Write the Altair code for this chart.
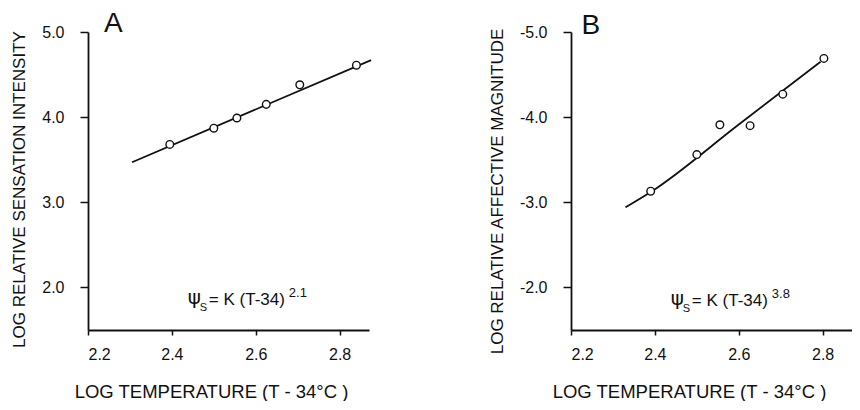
import altair as alt
import pandas as pd

# ---------------- data ----------------
x_ticks = [2.2, 2.4, 2.6, 2.8]

# Panel A: sensation intensity
a_temp = [2.395, 2.50, 2.555, 2.625, 2.705, 2.84]
a_value = [3.68, 3.87, 3.99, 4.15, 4.38, 4.61]
a_fit_temp = [2.305, 2.875]
a_fit_value = [3.47, 4.67]
a_y_ticks = [2.0, 3.0, 4.0, 5.0]

# Panel B: affective magnitude
b_temp = [2.39, 2.50, 2.555, 2.627, 2.705, 2.803]
b_value = [-3.13, -3.56, -3.91, -3.90, -4.27, -4.69]
b_fit_temp = [2.33, 2.39, 2.60, 2.795]
b_fit_value = [-2.94, -3.12, -3.914, -4.65]
b_y_ticks = [-5.0, -4.0, -3.0, -2.0]

x_title = "LOG TEMPERATURE  (T - 34°C )"
a_y_title = "LOG RELATIVE SENSATION INTENSITY"
b_y_title = "LOG RELATIVE AFFECTIVE MAGNITUDE"

FONT = "Liberation Sans"
INK = "#111111"


def panel(temp, value, fit_t, fit_v, ydomain, yticks, reverse, ytitle,
          letter, letter_pos, exponent, formula_pos, title_x, title_y):
    xs = alt.Scale(domain=[2.2, 2.87], nice=False, zero=False)
    ys = alt.Scale(domain=ydomain, nice=False, zero=False, reverse=reverse)
    xax = alt.Axis(values=x_ticks, format=".1f", title=x_title, titleX=title_x)
    yax = alt.Axis(values=yticks, title=ytitle, titleY=title_y,
                   labelExpr="(datum.value < 0 ? '-' : '') + format(abs(datum.value), '.1f')")

    pts = pd.DataFrame({"t": temp, "v": value})
    fit = pd.DataFrame({"t": fit_t, "v": fit_v})

    line = alt.Chart(fit).mark_line(color=INK, strokeWidth=1.8, interpolate="monotone", clip=False).encode(
        x=alt.X("t:Q", scale=xs, axis=xax),
        y=alt.Y("v:Q", scale=ys, axis=yax),
    )
    dots = alt.Chart(pts).mark_point(shape="circle", size=58, filled=True, fill="white",
                                     stroke=INK, strokeWidth=1.4, opacity=1).encode(
        x=alt.X("t:Q", scale=xs), y=alt.Y("v:Q", scale=ys))

    lt = pd.DataFrame({"t": [letter_pos[0]], "v": [letter_pos[1]]})
    letter_mark = alt.Chart(lt).mark_text(text=letter, font=FONT, fontSize=28, align="left",
                                          baseline="alphabetic", color=INK).encode(
        x=alt.X("t:Q", scale=xs), y=alt.Y("v:Q", scale=ys))

    fm = pd.DataFrame({"t": [formula_pos[0]], "v": [formula_pos[1]]})
    base = alt.Chart(fm).encode(x=alt.X("t:Q", scale=xs), y=alt.Y("v:Q", scale=ys))
    psi = base.mark_text(text="ψ", font="DejaVu Sans", fontSize=20, align="left",
                         baseline="alphabetic", color=INK, dy=-1)
    sub = base.mark_text(text="S", font=FONT, fontSize=11, align="left",
                         baseline="alphabetic", color=INK, dx=12, dy=6)
    main = base.mark_text(text="= K (T-34)", font=FONT, fontSize=17, align="left",
                          baseline="alphabetic", color=INK, dx=21)
    sup = base.mark_text(text=exponent, font=FONT, fontSize=13, align="left",
                         baseline="alphabetic", color=INK, dx=101, dy=-8)

    return alt.layer(line, dots, letter_mark, psi, sub, main, sup).properties(width=281, height=298)


A = panel(a_temp, a_value, a_fit_temp, a_fit_value, [1.5, 5.0], a_y_ticks, False, a_y_title,
          "A", (2.238, 5.0), "2.1", (2.438, 1.79), 123, 157)
B = panel(b_temp, b_value, b_fit_temp, b_fit_value, [-5.0, -1.5], b_y_ticks, True, b_y_title,
          "B", (2.225, -4.98), "3.8", (2.438, -1.78), 118, 159)

chart = alt.hconcat(A, B, spacing=113).configure(
    padding={"left": 2, "top": 2, "right": 0, "bottom": 0},
    font=FONT,
).configure_view(stroke=None).configure_axis(
    grid=False,
    domainColor=INK, domainWidth=1.8,
    tickColor=INK, tickWidth=1.5,
    labelFont=FONT, labelFontSize=16, labelColor=INK,
    titleFont=FONT, titleFontWeight="normal", titleColor=INK,
).configure_axisX(
    tickSize=5, labelPadding=11, titlePadding=20, titleFontSize=18.5,
).configure_axisY(
    tickSize=8, labelPadding=16, titlePadding=13, titleFontSize=17,
)

chart.save("out.html", embed_options={"renderer": "svg", "actions": False})
